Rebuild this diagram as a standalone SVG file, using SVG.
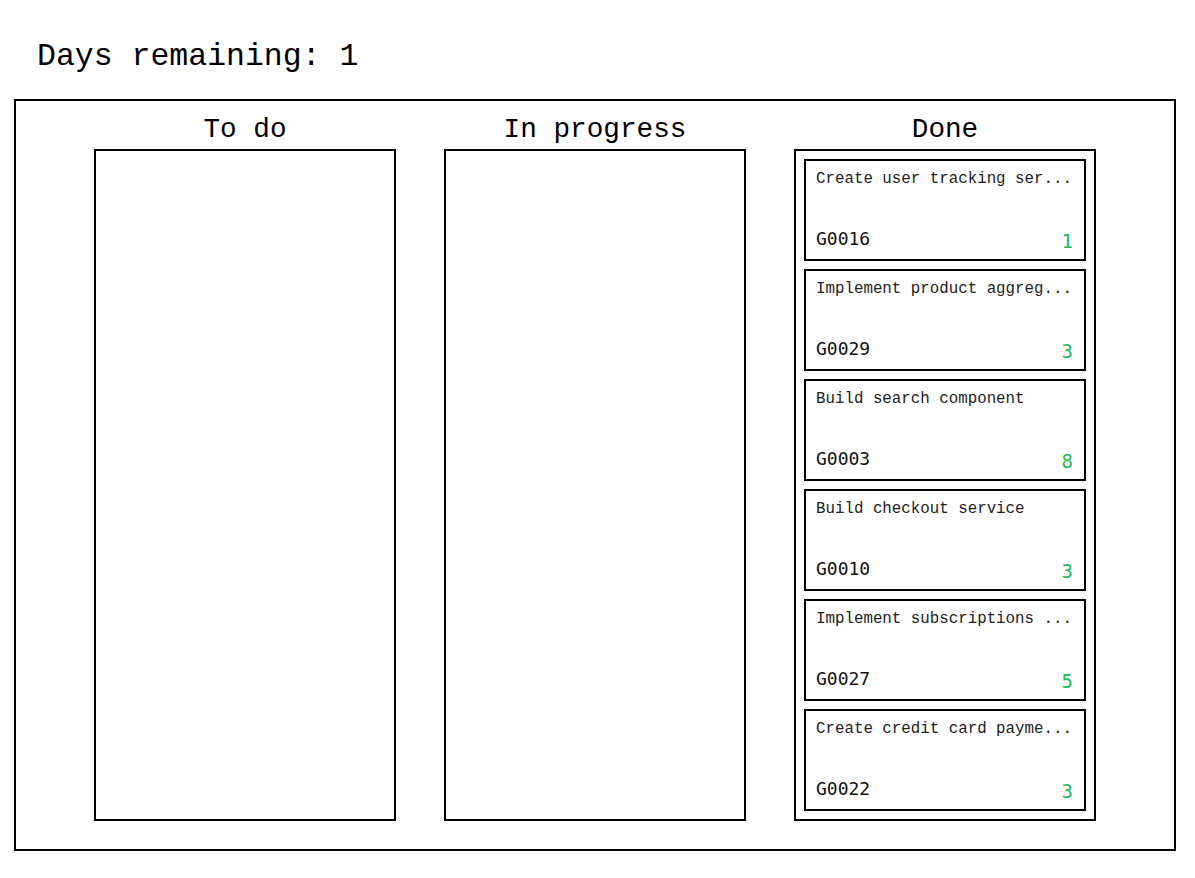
<svg xmlns="http://www.w3.org/2000/svg" width="1195" height="878" viewBox="0 0 1195 878">
<style>
.box{fill:#fff;stroke:#000;stroke-width:2}
.title{font-family:"Liberation Mono",monospace;font-size:31.5px;fill:#000}
.head{font-family:"Liberation Mono",monospace;font-size:27.7px;fill:#000;text-anchor:middle}
.ct{font-family:"Liberation Mono",monospace;font-size:15.8px;fill:#222}
.cid{font-family:"DejaVu Sans Mono",monospace;font-size:18px;fill:#111}
.pts{font-family:"DejaVu Sans Mono",monospace;font-size:19px;fill:#22bb55;text-anchor:end}
</style>
<rect width="1195" height="878" fill="#fff"/>
<text class="title" x="37" y="65">Days remaining: 1</text>
<g id="board">
<rect class="box" x="15" y="100" width="1160" height="750"/>
</g>
<g id="col-todo">
<text class="head" x="245" y="137">To do</text>
<rect class="box" x="95" y="150" width="300" height="670"/>
</g>
<g id="col-progress">
<text class="head" x="595" y="137">In progress</text>
<rect class="box" x="445" y="150" width="300" height="670"/>
</g>
<g id="col-done">
<text class="head" x="945" y="137">Done</text>
<rect class="box" x="795" y="150" width="300" height="670"/>
</g>
<g id="card-G0016">
<rect class="box" x="805" y="160" width="280" height="100"/>
<text class="ct" x="816" y="183">Create user tracking ser...</text>
<text class="cid" x="816" y="245">G0016</text>
<text class="pts" x="1073" y="248">1</text>
</g>
<g id="card-G0029">
<rect class="box" x="805" y="270" width="280" height="100"/>
<text class="ct" x="816" y="293">Implement product aggreg...</text>
<text class="cid" x="816" y="355">G0029</text>
<text class="pts" x="1073" y="358">3</text>
</g>
<g id="card-G0003">
<rect class="box" x="805" y="380" width="280" height="100"/>
<text class="ct" x="816" y="403">Build search component</text>
<text class="cid" x="816" y="465">G0003</text>
<text class="pts" x="1073" y="468">8</text>
</g>
<g id="card-G0010">
<rect class="box" x="805" y="490" width="280" height="100"/>
<text class="ct" x="816" y="513">Build checkout service</text>
<text class="cid" x="816" y="575">G0010</text>
<text class="pts" x="1073" y="578">3</text>
</g>
<g id="card-G0027">
<rect class="box" x="805" y="600" width="280" height="100"/>
<text class="ct" x="816" y="623">Implement subscriptions ...</text>
<text class="cid" x="816" y="685">G0027</text>
<text class="pts" x="1073" y="688">5</text>
</g>
<g id="card-G0022">
<rect class="box" x="805" y="710" width="280" height="100"/>
<text class="ct" x="816" y="733">Create credit card payme...</text>
<text class="cid" x="816" y="795">G0022</text>
<text class="pts" x="1073" y="798">3</text>
</g>
<g id="connectors"></g>
</svg>
